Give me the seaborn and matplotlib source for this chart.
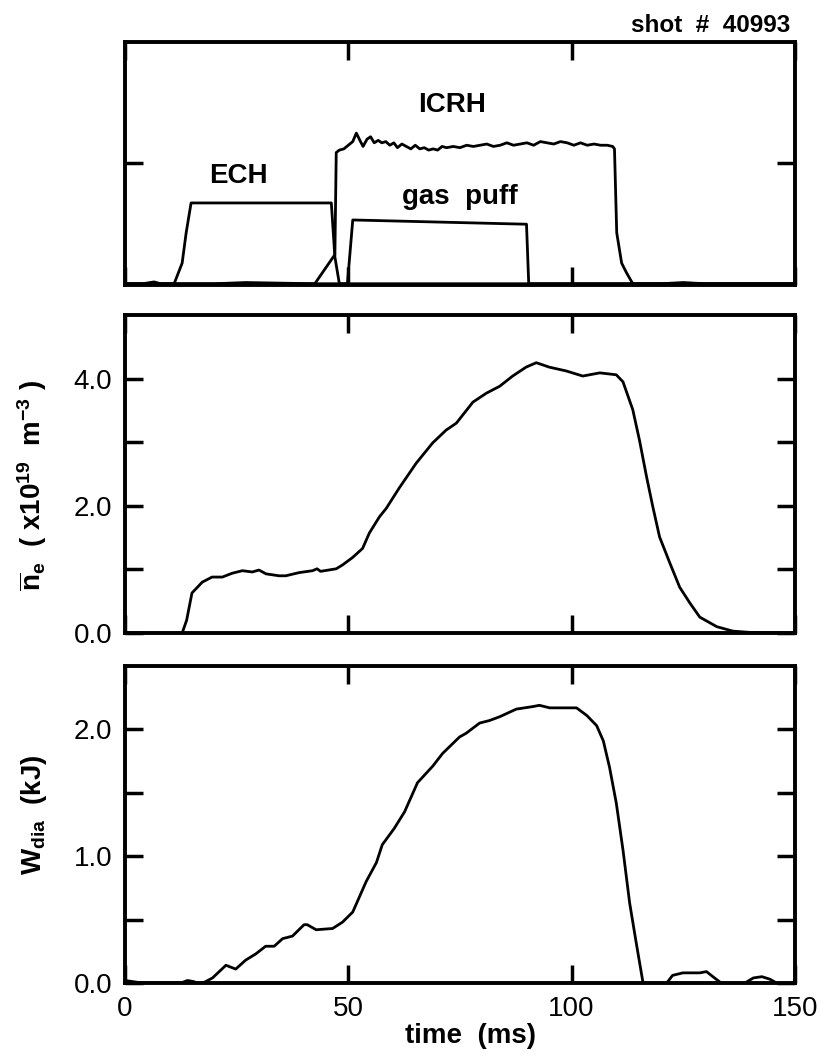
import numpy as np
import pandas as pd
import matplotlib
matplotlib.use("Agg")
import matplotlib.pyplot as plt
import seaborn as sns

# ---- data (time in ms) ----
# top panel: heating / gas traces (arbitrary units)
ech_t = [0, 4, 6.5, 8, 11.0, 12.8, 13.7, 14.8, 30.0, 46.2, 47.0, 48.0, 60, 80, 100, 120, 150]
ech_v = [0.01, 0.01, 0.025, 0.01, 0.01, 0.18, 0.43, 0.675, 0.675, 0.675, 0.23, 0.01, 0.01, 0.01, 0.01, 0.01, 0.01]

icrh_t = [0, 20, 27, 42.5, 47.0, 47.3, 48.0, 49.0, 50.0, 51.0, 51.8, 52.6, 53.3, 54.2, 55.0,
          55.8, 56.7, 57.5, 58.4, 59.3, 60.2, 61.0, 62.0, 63.0, 64.0, 65.0, 66.0, 67.0, 68.0,
          69.0, 70.0, 71.0, 72.0, 73.5, 75.0, 76.5, 78.0, 79.5, 81.0, 82.5, 84.0, 85.5, 87.0,
          88.5, 90.0, 91.5, 93.0, 94.5, 96.0, 97.5, 99.0, 100.5, 102.0, 103.5, 105.0, 106.5,
          108.0, 109.2, 109.6, 110.1, 111.2, 112.3, 113.7, 120, 125, 130, 140, 150]
icrh_v = [0.01, 0.01, 0.02, 0.01, 0.25, 1.09, 1.11, 1.12, 1.15, 1.18, 1.25, 1.19, 1.14, 1.20, 1.22,
          1.17, 1.19, 1.17, 1.18, 1.15, 1.17, 1.13, 1.16, 1.14, 1.12, 1.15, 1.12, 1.13, 1.11,
          1.12, 1.11, 1.14, 1.13, 1.14, 1.13, 1.15, 1.14, 1.15, 1.16, 1.14, 1.15, 1.17, 1.15,
          1.16, 1.17, 1.15, 1.18, 1.17, 1.16, 1.18, 1.17, 1.15, 1.17, 1.15, 1.16, 1.15,
          1.15, 1.14, 1.12, 0.43, 0.18, 0.10, 0.01, 0.01, 0.02, 0.01, 0.01, 0.01]

gas_t = [0, 49.8, 51.0, 89.9, 90.4, 150]
gas_v = [0.01, 0.01, 0.535, 0.50, 0.01, 0.01]

# middle panel: line averaged density (1e19 m^-3)
ne_t = [0, 12.8, 13.8, 15.0, 17.3, 19.5, 21.8, 24.0, 26.3, 28.5, 30.0, 31.6, 34.5, 36.0, 39.0,
        42.0, 43.0, 43.8, 47.3, 48.7, 51.0, 53.2, 54.7, 57.0, 58.5, 61.4, 65.2, 68.9, 71.9,
        74.2, 77.9, 80.9, 83.9, 86.8, 89.8, 92.1, 95.0, 98.8, 102.5, 106.3, 110.0, 111.5,
        113.7, 115.2, 116.8, 118.2, 119.7, 122.0, 124.2, 126.5, 128.7, 132.5, 136.1, 140.0, 150.0]
ne_v = [0.0, 0.0, 0.2, 0.63, 0.80, 0.88, 0.88, 0.94, 0.98, 0.96, 0.99, 0.93, 0.90, 0.90, 0.95,
        0.98, 1.01, 0.97, 1.01, 1.07, 1.19, 1.33, 1.57, 1.83, 1.96, 2.28, 2.67, 2.99, 3.19,
        3.30, 3.63, 3.77, 3.88, 4.04, 4.18, 4.25, 4.18, 4.12, 4.04, 4.09, 4.06, 3.95,
        3.51, 3.03, 2.45, 1.98, 1.51, 1.10, 0.72, 0.47, 0.25, 0.10, 0.03, 0.01, 0.0]

# bottom panel: diamagnetic energy (kJ)
w_t = [0, 3.9, 10, 12.5, 14.0, 15.5, 16.6, 18.0, 19.6, 21.1, 22.6, 24.8, 27.0, 29.3, 31.5, 33.4,
       35.3, 37.5, 40.1, 40.8, 42.8, 46.5, 48.7, 51.0, 52.5, 54.0, 56.3, 57.6, 60.3, 62.6,
       65.5, 68.9, 71.1, 74.9, 76.4, 79.4, 81.6, 83.9, 87.6, 91.3, 92.8, 95.1, 98.8, 101.1,
       103.4, 105.6, 107.1, 108.5, 110.0, 111.5, 113.0, 114.5, 116.0, 117.5, 120.0, 121.3,
       122.6, 124.9, 128.7, 130.2, 132.0, 133.5, 135.5, 138.8, 140.7, 142.6, 144.4, 145.9,
       148.0, 150.0]
w_v = [0.02, 0.0, 0.0, 0.0, 0.02, 0.01, -0.01, 0.01, 0.04, 0.09, 0.14, 0.11, 0.18, 0.23, 0.29, 0.29,
       0.35, 0.37, 0.46, 0.46, 0.42, 0.43, 0.48, 0.56, 0.68, 0.80, 0.95, 1.09, 1.22, 1.35,
       1.58, 1.71, 1.81, 1.94, 1.97, 2.05, 2.07, 2.10, 2.16, 2.18, 2.19, 2.17, 2.17, 2.17,
       2.11, 2.03, 1.91, 1.70, 1.42, 1.05, 0.63, 0.31, 0.0, -0.06, -0.04, 0.0,
       0.06, 0.08, 0.08, 0.09, 0.04, 0.0, -0.04, 0.0, 0.04, 0.05, 0.03, 0.0,
       -0.04, -0.04]

sns.set_style("ticks", {'axes.edgecolor': 'black', 'text.color': 'black',
                        'axes.labelcolor': 'black', 'xtick.color': 'black',
                        'ytick.color': 'black'})
plt.rcParams['font.family'] = ['Liberation Sans', 'DejaVu Sans']
plt.rcParams['mathtext.fontset'] = 'custom'
plt.rcParams['mathtext.bf'] = 'Liberation Sans:bold'
plt.rcParams['mathtext.rm'] = 'Liberation Sans:bold'
plt.rcParams['mathtext.default'] = 'bf'

fig = plt.figure(figsize=(8.19, 10.57), dpi=100)
ax1 = fig.add_axes([0.1526, 0.7304, 0.818, 0.2299])
ax2 = fig.add_axes([0.1526, 0.4011, 0.818, 0.3009])
ax3 = fig.add_axes([0.1526, 0.0700, 0.818, 0.2999])

lw = 2.0
for t, v in [(ech_t, ech_v), (icrh_t, icrh_v), (gas_t, gas_v)]:
    sns.lineplot(x=t, y=v, ax=ax1, color='black', lw=lw, sort=False, estimator=None)
sns.lineplot(x=ne_t, y=ne_v, ax=ax2, color='black', lw=lw, sort=False, estimator=None)
sns.lineplot(x=w_t, y=w_v, ax=ax3, color='black', lw=lw, sort=False, estimator=None)

for ax in (ax1, ax2, ax3):
    ax.set_xlim(0, 150)
    ax.set_xticks([0, 50, 100, 150])
    for s in ax.spines.values():
        s.set_linewidth(2.8)
        s.set_visible(True)
    ax.tick_params(direction='in', top=True, right=True, length=13, width=2.5,
                   labelsize=20, pad=9, colors='black')

fs = 20
ax1.set_ylim(0, 2)
ax1.set_yticks([1])
ax1.tick_params(labelleft=False, labelbottom=False)
ax1.text(73.3, 1.48, 'ICRH', ha='center', va='center', fontsize=fs, fontweight='bold')
ax1.text(25.3, 0.90, 'ECH', ha='center', va='center', fontsize=fs, fontweight='bold')
ax1.text(75.0, 0.72, 'gas  puff', ha='center', va='center', fontsize=fs, fontweight='bold')

ax2.set_ylim(0, 5)
ax2.set_yticks([0, 1, 2, 3, 4])
ax2.set_yticklabels(['0.0', '', '2.0', '', '4.0'])
ax2.tick_params(labelbottom=False)
ax2.set_ylabel(r'$\overline{n}_e$  ( x10$^{19}$  m$^{-3}$ )', fontsize=fs, fontweight='bold')
ax2.yaxis.set_label_coords(-0.113, 0.465)

ax3.set_ylim(0, 2.5)
ax3.set_yticks([0, 0.5, 1.0, 1.5, 2.0])
ax3.set_yticklabels(['0.0', '', '1.0', '', '2.0'])
ax3.set_xticklabels(['0', '50', '100', '150'])
ax3.set_ylabel(r'W$_{dia}$  (kJ)', fontsize=fs, fontweight='bold')
ax3.yaxis.set_label_coords(-0.113, 0.53)
ax3.set_xlabel('time  (ms)', fontsize=fs, fontweight='bold')
ax3.xaxis.set_label_coords(0.516, -0.125)

fig.text(0.9646, 0.976, 'shot  #  40993', ha='right', va='center', fontsize=17.5, fontweight='bold')

fig.savefig('out.png', dpi=100)
